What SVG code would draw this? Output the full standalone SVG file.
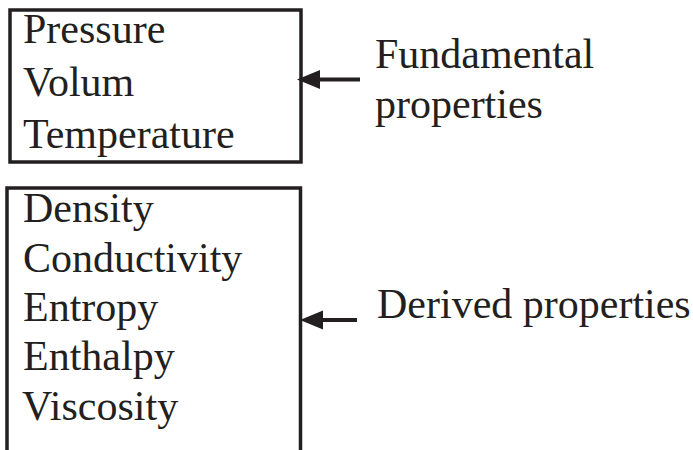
<svg xmlns="http://www.w3.org/2000/svg" width="693" height="450" viewBox="0 0 693 450">
<style>
.bg{fill:#ffffff}
.box{fill:none;stroke:#231f20;stroke-width:3.5}
.t{font-family:"Liberation Serif","Times New Roman",serif;font-size:42px;fill:#231f20}
.conn{stroke:#231f20;stroke-width:4;fill:none}
.head{fill:#231f20}
</style>
<rect class="bg" x="0" y="0" width="693" height="450"/>
<g id="fundamental-box">
<rect class="box" x="10" y="10" width="291" height="152"/>
<text class="t" x="23" y="43">Pressure</text>
<text class="t" x="23" y="96">Volum</text>
<text class="t" x="23" y="148">Temperature</text>
</g>
<g id="derived-box">
<path class="box" d="M7,452 L7,188 L300.5,188 L300.5,452"/>
<text class="t" x="23" y="222">Density</text>
<text class="t" x="23" y="272">Conductivity</text>
<text class="t" x="23" y="321">Entropy</text>
<text class="t" x="23" y="370">Enthalpy</text>
<text class="t" x="22" y="420">Viscosity</text>
</g>
<g id="fundamental-label">
<text class="t" x="375" y="68">Fundamental</text>
<text class="t" x="375" y="118">properties</text>
</g>
<g id="derived-label">
<text class="t" x="377" y="318">Derived properties</text>
</g>
<g id="connectors">
<line class="conn" x1="318" y1="79.5" x2="360" y2="79.5"/>
<polygon class="head" points="297,79.5 320,70 320,89"/>
<line class="conn" x1="320" y1="320" x2="357" y2="320"/>
<polygon class="head" points="300,320 323,310.5 323,329.5"/>
</g>
</svg>
